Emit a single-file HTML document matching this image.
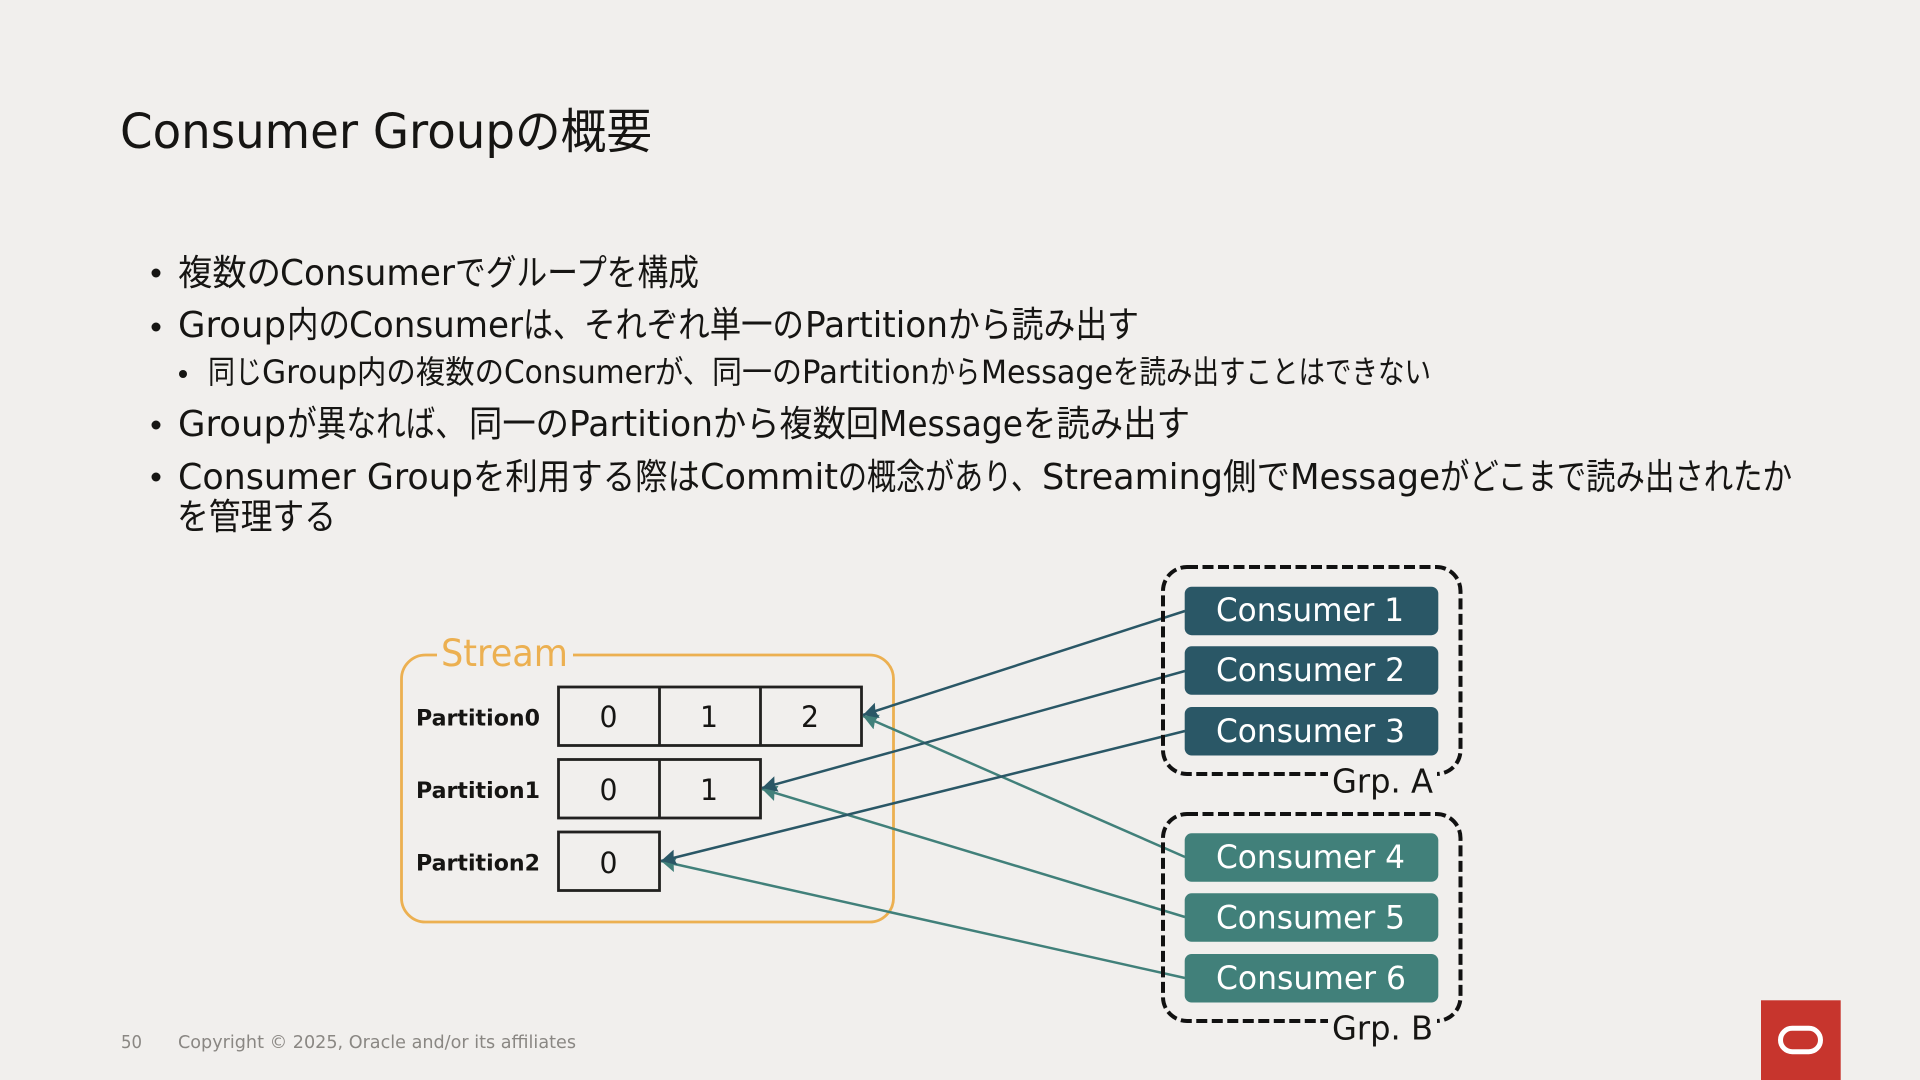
<!DOCTYPE html>
<html lang="ja"><head><meta charset="utf-8"><title>Consumer Groupの概要</title>
<style>
html,body{margin:0;padding:0;width:1920px;height:1080px;overflow:hidden;background:#f1efed}
svg{display:block}
text{font-family:"DejaVu Sans","Noto Sans CJK JP",sans-serif;fill:#161513}
.t{font-size:48px}.b{font-size:36px}.s{font-size:32px}
.n{font-size:29px}
.p{font-size:22.5px;font-weight:bold}
.c{font-size:32px;fill:#fff}
.g{font-size:33px}
.f{font-size:18px;fill:#8a8783}
.cell{fill:none;stroke:#222120;stroke-width:2.8}
</style></head><body>
<svg width="1920" height="1080" viewBox="0 0 1920 1080" xmlns="http://www.w3.org/2000/svg">
<defs>
<marker id="a1" markerUnits="userSpaceOnUse" markerWidth="17" markerHeight="17" refX="15" refY="8" orient="auto"><path d="M0,0L15,8L0,16L2,8Z" fill="#2a5766"/></marker>
<marker id="a2" markerUnits="userSpaceOnUse" markerWidth="17" markerHeight="17" refX="15" refY="8" orient="auto"><path d="M0,0L15,8L0,16L2,8Z" fill="#41807a"/></marker>
</defs>
<rect width="1920" height="1080" fill="#f1efed"/>

<!-- title -->
<text class="t" y="148" x="120" textLength="395" lengthAdjust="spacingAndGlyphs" xml:space="preserve">Consumer Group</text>
<text class="t" y="148" x="515" textLength="137" lengthAdjust="spacingAndGlyphs">の概要</text>

<!-- bullets -->
<g fill="#161513">
<circle cx="156" cy="273" r="4.5"/><circle cx="156" cy="327" r="4.5"/><circle cx="183" cy="374" r="4"/><circle cx="156" cy="425" r="4.5"/><circle cx="156" cy="477" r="4.5"/>
</g>
<g class="b">
<text class="b" y="285" x="178" textLength="103" lengthAdjust="spacingAndGlyphs">複数の</text>
<text class="b" y="285" x="280" textLength="175" lengthAdjust="spacingAndGlyphs">Consumer</text>
<text class="b" y="285" x="455" textLength="244" lengthAdjust="spacingAndGlyphs">でグループを構成</text>

<text class="b" y="337" x="178" textLength="108" lengthAdjust="spacingAndGlyphs">Group</text>
<text class="b" y="337" x="287" textLength="63" lengthAdjust="spacingAndGlyphs">内の</text>
<text class="b" y="337" x="349" textLength="174" lengthAdjust="spacingAndGlyphs">Consumer</text>
<text class="b" y="337" x="523" textLength="60" lengthAdjust="spacingAndGlyphs">は、</text>
<text class="b" y="337" x="584" textLength="220" lengthAdjust="spacingAndGlyphs">それぞれ単一の</text>
<text class="b" y="337" x="805" textLength="143" lengthAdjust="spacingAndGlyphs">Partition</text>
<text class="b" y="337" x="948" textLength="191" lengthAdjust="spacingAndGlyphs">から読み出す</text>

<text class="s" y="383" x="208" textLength="54" lengthAdjust="spacingAndGlyphs">同じ</text>
<text class="s" y="383" x="262" textLength="95" lengthAdjust="spacingAndGlyphs">Group</text>
<text class="s" y="383" x="357" textLength="147" lengthAdjust="spacingAndGlyphs">内の複数の</text>
<text class="s" y="383" x="504" textLength="151" lengthAdjust="spacingAndGlyphs">Consumer</text>
<text class="s" y="383" x="655" textLength="56" lengthAdjust="spacingAndGlyphs">が、</text>
<text class="s" y="383" x="712" textLength="90" lengthAdjust="spacingAndGlyphs">同一の</text>
<text class="s" y="383" x="802" textLength="128" lengthAdjust="spacingAndGlyphs">Partition</text>
<text class="s" y="383" x="930" textLength="50" lengthAdjust="spacingAndGlyphs">から</text>
<text class="s" y="383" x="981" textLength="132" lengthAdjust="spacingAndGlyphs">Message</text>
<text class="s" y="383" x="1113" textLength="318" lengthAdjust="spacingAndGlyphs">を読み出すことはできない</text>

<text class="b" y="436" x="178" textLength="108" lengthAdjust="spacingAndGlyphs">Group</text>
<text class="b" y="436" x="287" textLength="178" lengthAdjust="spacingAndGlyphs">が異なれば、</text>
<text class="b" y="436" x="469" textLength="100" lengthAdjust="spacingAndGlyphs">同一の</text>
<text class="b" y="436" x="569" textLength="144" lengthAdjust="spacingAndGlyphs">Partition</text>
<text class="b" y="436" x="713" textLength="166" lengthAdjust="spacingAndGlyphs">から複数回</text>
<text class="b" y="436" x="879" textLength="144" lengthAdjust="spacingAndGlyphs">Message</text>
<text class="b" y="436" x="1023" textLength="167" lengthAdjust="spacingAndGlyphs">を読み出す</text>

<text class="b" y="489" x="178" textLength="295" lengthAdjust="spacingAndGlyphs" xml:space="preserve">Consumer Group</text>
<text class="b" y="489" x="473" textLength="227" lengthAdjust="spacingAndGlyphs">を利用する際は</text>
<text class="b" y="489" x="700" textLength="138" lengthAdjust="spacingAndGlyphs">Commit</text>
<text class="b" y="489" x="838" textLength="202" lengthAdjust="spacingAndGlyphs">の概念があり、</text>
<text class="b" y="489" x="1042" textLength="181" lengthAdjust="spacingAndGlyphs">Streaming</text>
<text class="b" y="489" x="1223" textLength="67" lengthAdjust="spacingAndGlyphs">側で</text>
<text class="b" y="489" x="1290" textLength="150" lengthAdjust="spacingAndGlyphs">Message</text>
<text class="b" y="489" x="1440" textLength="352" lengthAdjust="spacingAndGlyphs">がどこまで読み出されたか</text>

<text class="b" y="529" x="177" textLength="159" lengthAdjust="spacingAndGlyphs">を管理する</text>
</g>

<!-- stream -->
<rect x="401.5" y="655" width="492" height="267" rx="24" fill="none" stroke="#ecb051" stroke-width="2.8"/>
<rect x="437" y="648" width="136" height="14" fill="#f1efed"/>
<text x="441" y="666" style="font-size:37px;fill:#ecb051" textLength="127" lengthAdjust="spacingAndGlyphs">Stream</text>

<text class="p" x="416" y="725.5" textLength="124" lengthAdjust="spacingAndGlyphs">Partition0</text>
<text class="p" x="416" y="798" textLength="124" lengthAdjust="spacingAndGlyphs">Partition1</text>
<text class="p" x="416" y="870.5" textLength="124" lengthAdjust="spacingAndGlyphs">Partition2</text>

<rect class="cell" x="558.5" y="687" width="303" height="58.5"/>
<path class="cell" d="M659.5 687V745.5M760.5 687V745.5"/>
<rect class="cell" x="558.5" y="759.5" width="202" height="58.5"/>
<path class="cell" d="M659.5 759.5V818"/>
<rect class="cell" x="558.5" y="832" width="101" height="58.5"/>
<text class="n" x="599.5" y="727" textLength="18" lengthAdjust="spacingAndGlyphs">0</text><text class="n" x="700" y="727" textLength="18" lengthAdjust="spacingAndGlyphs">1</text><text class="n" x="801" y="727" textLength="18" lengthAdjust="spacingAndGlyphs">2</text>
<text class="n" x="599.5" y="800" textLength="18" lengthAdjust="spacingAndGlyphs">0</text><text class="n" x="700" y="800" textLength="18" lengthAdjust="spacingAndGlyphs">1</text>
<text class="n" x="599.5" y="873" textLength="18" lengthAdjust="spacingAndGlyphs">0</text>

<!-- connectors -->
<g fill="none" stroke-width="2.5">
<line x1="1185" y1="857" x2="863" y2="716" stroke="#41807a" marker-end="url(#a2)"/>
<line x1="1185" y1="917" x2="762" y2="789" stroke="#41807a" marker-end="url(#a2)"/>
<line x1="1185" y1="978" x2="661" y2="861" stroke="#41807a" marker-end="url(#a2)"/>
<line x1="1185" y1="611" x2="863" y2="715" stroke="#2a5766" marker-end="url(#a1)"/>
<line x1="1185" y1="671" x2="762" y2="788" stroke="#2a5766" marker-end="url(#a1)"/>
<line x1="1185" y1="731" x2="661" y2="861" stroke="#2a5766" marker-end="url(#a1)"/>
</g>

<!-- groups -->
<rect x="1163" y="567" width="297.5" height="207" rx="24" fill="none" stroke="#111" stroke-width="4" stroke-dasharray="11 4.5"/>
<rect x="1163" y="814" width="297.5" height="207" rx="24" fill="none" stroke="#111" stroke-width="4" stroke-dasharray="11 4.5"/>
<rect x="1328" y="765" width="109" height="30" fill="#f1efed"/>
<rect x="1328" y="1012" width="109" height="30" fill="#f1efed"/>
<text class="g" x="1332" y="792.5" textLength="101" lengthAdjust="spacingAndGlyphs" xml:space="preserve">Grp. A</text>
<text class="g" x="1332" y="1039.5" textLength="101" lengthAdjust="spacingAndGlyphs" xml:space="preserve">Grp. B</text>

<!-- consumers -->
<g fill="#2a5766">
<rect x="1184.7" y="586.7" width="253.6" height="48.5" rx="7"/>
<rect x="1184.7" y="646.3" width="253.6" height="48.5" rx="7"/>
<rect x="1184.7" y="707" width="253.6" height="48.5" rx="7"/>
</g>
<g fill="#41807a">
<rect x="1184.7" y="833.3" width="253.6" height="48.5" rx="7"/>
<rect x="1184.7" y="893.3" width="253.6" height="48.5" rx="7"/>
<rect x="1184.7" y="954" width="253.6" height="48.5" rx="7"/>
</g>
<text class="c" x="1216" y="621" textLength="188" lengthAdjust="spacingAndGlyphs" xml:space="preserve">Consumer 1</text>
<text class="c" x="1216" y="681" textLength="189" lengthAdjust="spacingAndGlyphs" xml:space="preserve">Consumer 2</text>
<text class="c" x="1216" y="742" textLength="189" lengthAdjust="spacingAndGlyphs" xml:space="preserve">Consumer 3</text>
<text class="c" x="1216" y="868" textLength="189" lengthAdjust="spacingAndGlyphs" xml:space="preserve">Consumer 4</text>
<text class="c" x="1216" y="928.5" textLength="189" lengthAdjust="spacingAndGlyphs" xml:space="preserve">Consumer 5</text>
<text class="c" x="1216" y="989" textLength="190" lengthAdjust="spacingAndGlyphs" xml:space="preserve">Consumer 6</text>

<!-- footer -->
<text class="f" x="121" y="1048" textLength="21" lengthAdjust="spacingAndGlyphs">50</text>
<text class="f" x="178" y="1048" textLength="398" lengthAdjust="spacingAndGlyphs" xml:space="preserve">Copyright © 2025, Oracle and/or its affiliates</text>

<!-- logo -->
<rect x="1761" y="1000.3" width="79.7" height="79.7" fill="#c7352d"/>
<rect x="1780.5" y="1028.3" width="40" height="23.4" rx="11.7" fill="none" stroke="#fff" stroke-width="5"/>
</svg>
</body></html>
